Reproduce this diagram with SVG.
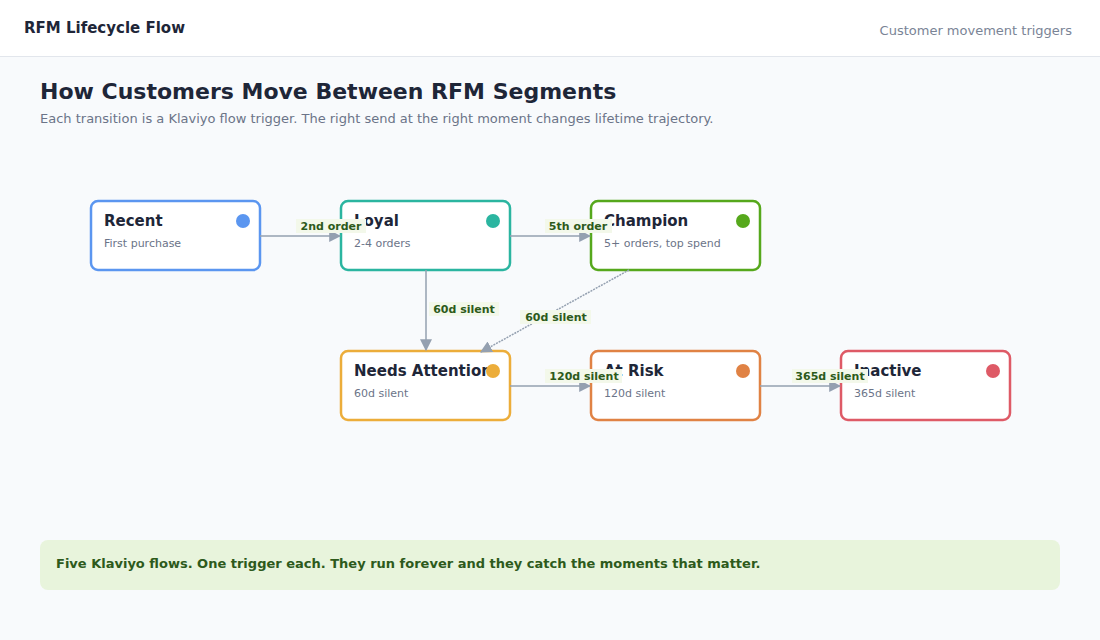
<svg xmlns="http://www.w3.org/2000/svg" width="1100" height="640" viewBox="0 0 1100 640">
<defs>
<marker id="ah" viewBox="0 0 10 10" refX="9" refY="5" markerWidth="8" markerHeight="8" orient="auto"><path d="M0,0 L10,5 L0,10 z" fill="#94a0b0"/></marker>
<style>
text{font-family:"DejaVu Sans",Verdana,sans-serif}
.box{fill:#fff;stroke-width:2.5}
.t{font-size:15px;font-weight:bold;fill:#1e2638}
.s{font-size:11px;fill:#6b7488}
.e{stroke:#94a0b0;stroke-width:1.5;fill:none;marker-end:url(#ah)}
.lb{fill:#f3f8ea}
.lt{font-size:11px;font-weight:bold;fill:#2d5a1b;text-anchor:middle}
</style>
</defs>
<rect width="1100" height="640" fill="#f8fafc"/>
<rect width="1100" height="56" fill="#fff"/>
<line x1="0" y1="56.5" x2="1100" y2="56.5" stroke="#e2e6ec"/>
<text x="24" y="33" font-size="15" font-weight="bold" fill="#1e2638">RFM Lifecycle Flow</text>
<text x="1072" y="35" font-size="13" fill="#7a8496" text-anchor="end">Customer movement triggers</text>
<text x="40" y="99" font-size="22" font-weight="bold" fill="#1e2638">How Customers Move Between RFM Segments</text>
<text x="40" y="123" font-size="13" fill="#6b7488">Each transition is a Klaviyo flow trigger. The right send at the right moment changes lifetime trajectory.</text>

<g id="recent"><rect class="box" x="91" y="201" width="169" height="69" rx="7" stroke="#5b96f0"/><text class="t" x="104" y="226">Recent</text><text class="s" x="104" y="247">First purchase</text><circle cx="243" cy="221" r="7" fill="#5b96f0"/></g>
<g id="loyal"><rect class="box" x="341" y="201" width="169" height="69" rx="7" stroke="#2bb5a0"/><text class="t" x="354" y="226">Loyal</text><text class="s" x="354" y="247">2-4 orders</text><circle cx="493" cy="221" r="7" fill="#2bb5a0"/></g>
<g id="champion"><rect class="box" x="591" y="201" width="169" height="69" rx="7" stroke="#56a81c"/><text class="t" x="604" y="226">Champion</text><text class="s" x="604" y="247">5+ orders, top spend</text><circle cx="743" cy="221" r="7" fill="#56a81c"/></g>
<g id="needs-attention"><rect class="box" x="341" y="351" width="169" height="69" rx="7" stroke="#ecad3a"/><text class="t" x="354" y="376">Needs Attention</text><text class="s" x="354" y="397">60d silent</text><circle cx="493" cy="371" r="7" fill="#ecad3a"/></g>
<g id="at-risk"><rect class="box" x="591" y="351" width="169" height="69" rx="7" stroke="#e08244"/><text class="t" x="604" y="376">At Risk</text><text class="s" x="604" y="397">120d silent</text><circle cx="743" cy="371" r="7" fill="#e08244"/></g>
<g id="inactive"><rect class="box" x="841" y="351" width="169" height="69" rx="7" stroke="#de5a66"/><text class="t" x="854" y="376">Inactive</text><text class="s" x="854" y="397">365d silent</text><circle cx="993" cy="371" r="7" fill="#de5a66"/></g>

<g id="connectors">
<line class="e" x1="260" y1="236" x2="340" y2="236"/>
<line class="e" x1="510" y1="236" x2="590" y2="236"/>
<line class="e" x1="426" y1="270" x2="426" y2="350"/>
<line class="e" x1="629" y1="270" x2="481" y2="352" stroke-width="1" stroke-dasharray="2 1"/>
<line class="e" x1="510" y1="386" x2="590" y2="386"/>
<line class="e" x1="760" y1="386" x2="840" y2="386"/>
<rect class="lb" x="296" y="219" width="70" height="14"/><text class="lt" x="331" y="230">2nd order</text>
<rect class="lb" x="545" y="219" width="67" height="14"/><text class="lt" x="578" y="230">5th order</text>
<rect class="lb" x="429" y="302" width="70" height="14"/><text class="lt" x="464" y="313">60d silent</text>
<rect class="lb" x="520" y="310" width="71" height="14"/><text class="lt" x="556" y="321">60d silent</text>
<rect class="lb" x="545" y="369" width="77" height="14"/><text class="lt" x="584" y="380">120d silent</text>
<rect class="lb" x="792" y="369" width="76" height="14"/><text class="lt" x="830" y="380">365d silent</text>
</g>

<g id="footer"><rect x="40" y="540" width="1020" height="50" rx="8" fill="#e8f4dc"/><text x="56" y="568" font-size="13" font-weight="bold" fill="#2d5a1b">Five Klaviyo flows. One trigger each. They run forever and they catch the moments that matter.</text></g>
</svg>
